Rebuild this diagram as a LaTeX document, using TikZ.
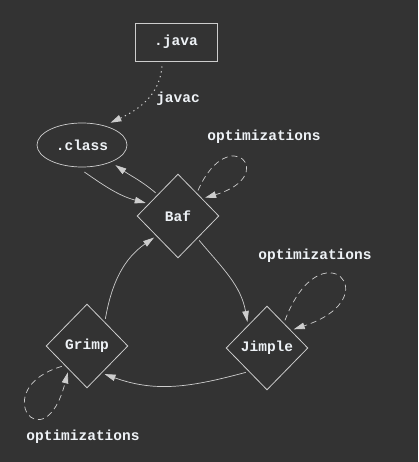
\documentclass[tikz,border=0pt]{standalone}
\usepackage{fontspec}
\setmonofont{Liberation Mono}
\usetikzlibrary{shapes.geometric,arrows.meta}
\definecolor{bgcol}{HTML}{333333}
\definecolor{linecol}{HTML}{CDCDCD}
\definecolor{txtcol}{HTML}{EEF2F6}
\tikzset{
  lbl/.style={text=txtcol, font=\fontsize{14.5}{16}\ttfamily\bfseries},
  ir/.style={lbl, diamond, draw=linecol, line width=0.8pt, minimum width=84pt, minimum height=86pt, inner sep=0pt, outer sep=3pt},
  flow/.style={draw=linecol, line width=0.7pt, -{Triangle[length=11pt,width=6.5pt]}},
  opt/.style={flow, dash pattern=on 6pt off 4pt},
}
\begin{document}
\begin{tikzpicture}[x=1pt, y=-1pt]
    \fill[bgcol] (0, 0) rectangle (418, 462);
    \useasboundingbox (0, 0) rectangle (418, 462);

    \node[lbl, draw=linecol, line width=0.8pt, minimum width=82pt, minimum height=38pt, inner sep=0pt] (java) at (176, 42) {.java};
    \node[lbl, ellipse, draw=linecol, line width=0.7pt, minimum width=90pt, minimum height=44pt, inner sep=0pt, outer sep=5pt] (class) at (82, 145) {.class};
    \node[ir] (baf) at (178, 216) {Baf};
    \node[ir] (jimple) at (267, 348) {Jimple};
    \node[ir] (grimp) at (87, 346) {Grimp};

    \node[lbl] (javac) at (178, 99) {javac};
    \node[lbl] (optbaf) at (264, 137) {optimizations};
    \node[lbl] (optjimple) at (315, 256) {optimizations};
    \node[lbl] (optgrimp) at (83, 437) {optimizations};

    % compile
    \draw[flow, line width=1pt, dash pattern=on 1.3pt off 3.6pt] ([xshift=-14pt, yshift=-5pt]java.south) to[out=-95, in=25] (class.38);

    % cycle
    \draw[flow] (class.-85) to[out=-35, in=165] (baf.158);
    \draw[flow] (baf.134) to[out=140, in=-35] (class.-31);
    \draw[flow] (baf.-49) to[out=-50, in=100] (jimple.127);
    \draw[flow] (jimple.-131) to[out=195, in=-20] (grimp.-58);
    \draw[flow] (grimp.56) to[out=80, in=215] (baf.-138);

    % self loops
    \draw[opt] (baf.52) .. controls +(31, -70) and +(75, -22) .. (baf.34);
    \draw[opt] (jimple.57) .. controls +(36, -95) and +(97, -32) .. (jimple.35);
    \draw[opt] (grimp.219) .. controls +(-75, 22) and +(-24, 92) .. (grimp.234);
\end{tikzpicture}
\end{document}
